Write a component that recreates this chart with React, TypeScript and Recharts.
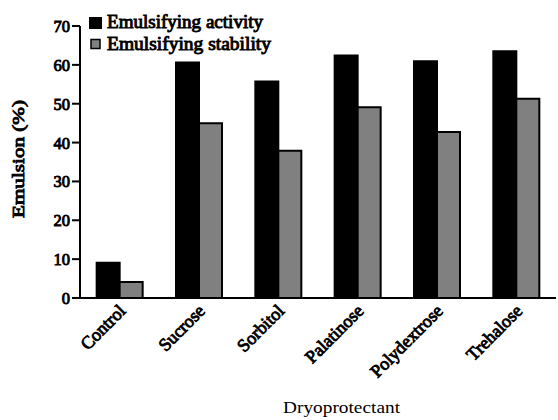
import React from 'react';
import { BarChart, Bar, XAxis, YAxis, Legend, Label } from 'recharts';

const categories = ['Control', 'Sucrose', 'Sorbitol', 'Palatinose', 'Polydextrose', 'Trehalose'];
const activity = [9.1, 60.6, 55.7, 62.4, 60.9, 63.5];
const stability = [4.1, 45.0, 37.9, 49.1, 42.7, 51.3];
const yTicks = [0, 10, 20, 30, 40, 50, 60, 70];
const seriesNames = ['Emulsifying activity', 'Emulsifying stability'];

const data = categories.map((c, i) => ({ name: c, activity: activity[i], stability: stability[i] }));

const FONT = '"Liberation Serif", "Times New Roman", serif';
const BOLD = { stroke: '#000', strokeWidth: 0.9 };

const XTick = (props: any) => {
  const { x, y, payload } = props;
  const ax = x + 7;
  const ay = y + 6;
  return (
    <text
      x={ax}
      y={ay}
      transform={`rotate(-45, ${ax}, ${ay})`}
      textAnchor="end"
      fontFamily={FONT}
      fontSize={18}
      fill="#000"
      {...BOLD}
    >
      {payload.value}
    </text>
  );
};

const YTick = (props: any) => {
  const { x, y, payload } = props;
  return (
    <text x={x} y={y + 6} textAnchor="end" fontFamily={FONT} fontSize={16.5} fill="#000" {...BOLD}>
      {payload.value}
    </text>
  );
};

const LegendContent = () => (
  <svg width={200} height={46} style={{ display: 'block' }}>
    <rect x={2} y={5} width={13} height={12} fill="#000" />
    <text x={20} y={16} fontFamily={FONT} fontSize={18} fill="#000" textLength={156} lengthAdjust="spacingAndGlyphs" {...BOLD}>
      {seriesNames[0]}
    </text>
    <rect x={4} y={27.5} width={9} height={9} fill="#808080" stroke="#000" strokeWidth={1.5} />
    <text x={20} y={38} fontFamily={FONT} fontSize={18} fill="#000" textLength={164} lengthAdjust="spacingAndGlyphs" {...BOLD}>
      {seriesNames[1]}
    </text>
  </svg>
);

export default function App() {
  return (
    <div style={{ position: 'absolute', left: 0, top: 0 }}>
      <BarChart
        width={558}
        height={420}
        data={data}
        margin={{ top: 26, right: 2, bottom: 0, left: 0 }}
        barCategoryGap="21%"
        barGap={0}
      >
        <XAxis
          dataKey="name"
          height={122}
          tickLine={false}
          axisLine={{ stroke: '#000', strokeWidth: 2 }}
          tick={<XTick />}
          interval={0}
        >
          <Label
            content={(p: any) => {
              const vb = p.viewBox;
              const cx = vb.x + vb.width / 2 + 23;
              return (
                <text
                  x={cx - 58}
                  y={vb.y + 115}
                  fontFamily={FONT}
                  fontSize={17}
                  fill="#000"
                  textLength={117}
                  lengthAdjust="spacingAndGlyphs"
                >
                  Dryoprotectant
                </text>
              );
            }}
          />
        </XAxis>
        <YAxis
          width={80}
          domain={[0, 70]}
          ticks={yTicks}
          interval={0}
          tickSize={8}
          tickMargin={2}
          axisLine={{ stroke: '#000', strokeWidth: 2 }}
          tickLine={{ stroke: '#000', strokeWidth: 2 }}
          tick={<YTick />}
        >
          <Label
            content={() => (
              <text
                x={24}
                y={218}
                transform="rotate(-90, 24, 218)"
                fontFamily={FONT}
                fontSize={17}
                fill="#000"
                textLength={118}
                lengthAdjust="spacingAndGlyphs"
                {...BOLD}
              >
                Emulsion (%)
              </text>
            )}
          />
        </YAxis>
        <Legend
          layout="horizontal"
          verticalAlign="middle"
          align="center"
          wrapperStyle={{ position: 'absolute', left: 87, top: 12, width: 'auto', height: 'auto' }}
          content={<LegendContent />}
        />
        <Bar dataKey="activity" name={seriesNames[0]} fill="#000" stroke="#000" strokeWidth={2} isAnimationActive={false} />
        <Bar dataKey="stability" name={seriesNames[1]} fill="#808080" stroke="#000" strokeWidth={2} isAnimationActive={false} />
      </BarChart>
    </div>
  );
}
